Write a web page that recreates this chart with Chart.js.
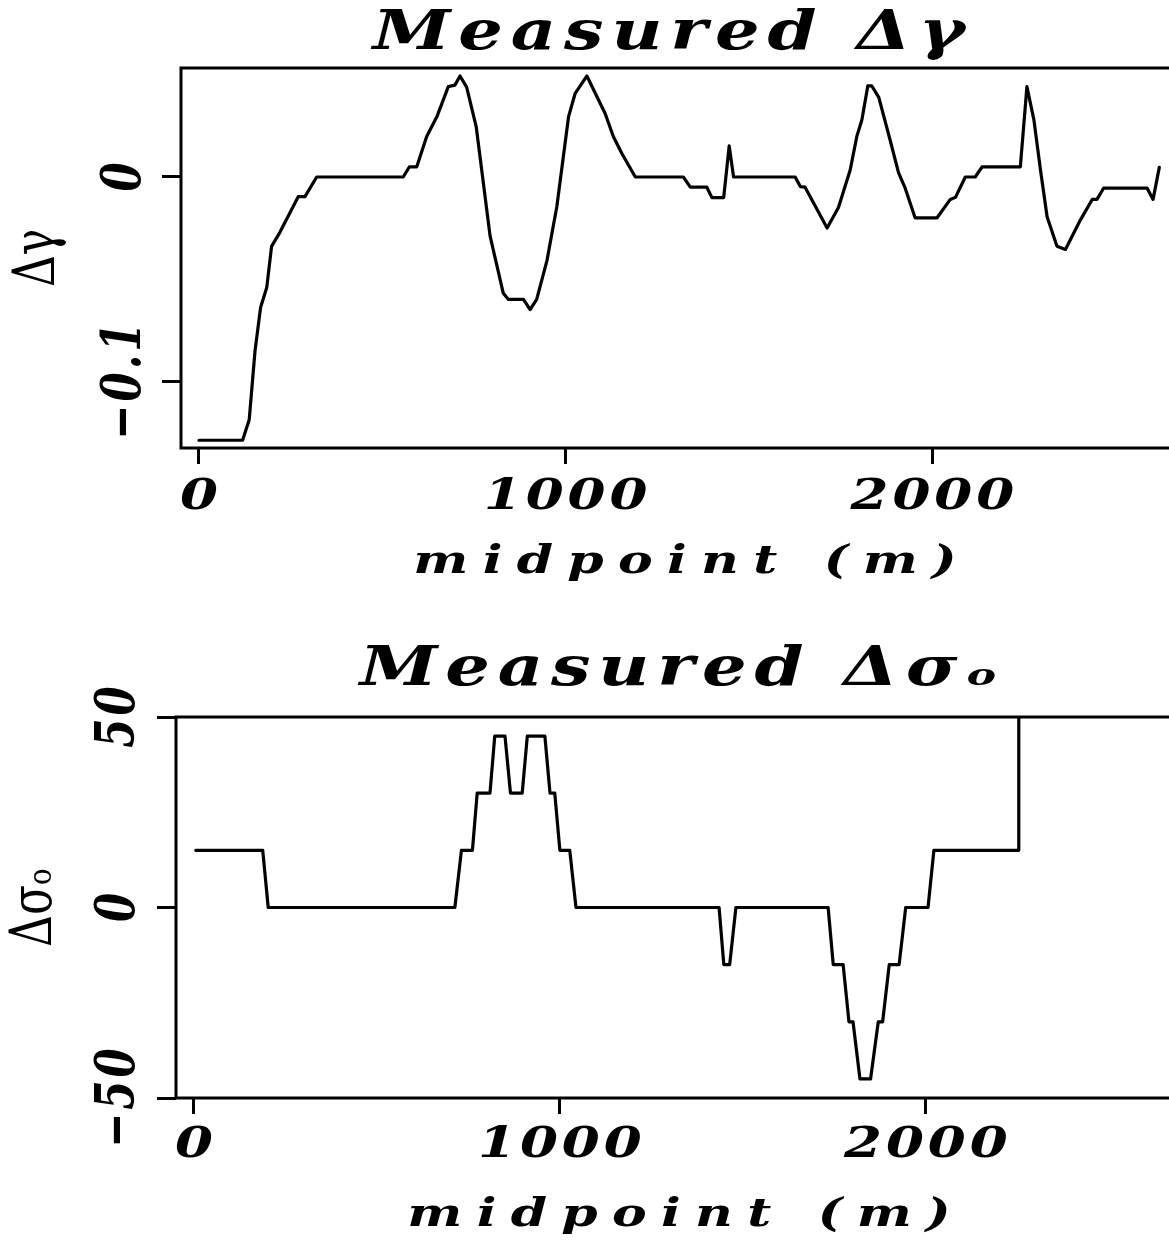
<!DOCTYPE html>
<html>
<head>
<meta charset="utf-8">
<script src="https://cdn.jsdelivr.net/npm/chart.js@4.4.1/dist/chart.umd.min.js"></script>
<style>
  html, body { margin: 0; padding: 0; background: #fff; overflow: hidden; }
  canvas { display: block; }
</style>
</head>
<body>
<canvas id="gammaChart" width="1240" height="620"></canvas>
<canvas id="sigmaChart" width="1240" height="624"></canvas>
<script>
// Measured delta gamma along the line (midpoint in m)
const midpointsGamma = [
  0, 119, 137, 153, 168, 185, 198, 221, 271, 289,
  321, 557, 574, 594, 621, 649, 680, 698, 712, 730,
  756, 794, 830, 844, 885, 903, 921, 949, 976, 1008,
  1026, 1058, 1108, 1130, 1153, 1190, 1321, 1340, 1385, 1399,
  1431, 1446, 1458, 1626, 1640, 1653, 1713, 1744, 1776, 1794,
  1808, 1824, 1835, 1854, 1885, 1908, 1926, 1953, 2013, 2049,
  2063, 2090, 2117, 2136, 2240, 2258, 2277, 2295, 2313, 2340,
  2363, 2404, 2436, 2449, 2467, 2586, 2602, 2619
];
const gammaValues = [
  -0.129, -0.129, -0.119, -0.085, -0.064, -0.054, -0.034, -0.027, -0.0096, -0.0096,
  0, 0, 0.005, 0.005, 0.0198, 0.0296, 0.0443, 0.045, 0.0495, 0.044,
  0.0247, -0.029, -0.057, -0.060, -0.060, -0.065, -0.060, -0.041, -0.0145, 0.0296,
  0.041, 0.0495, 0.031, 0.0198, 0.0116, 0, 0, -0.005, -0.005, -0.0101,
  -0.0101, 0.0152, 0, 0, -0.0047, -0.005, -0.025, -0.015, 0.0034, 0.0198,
  0.028, 0.0446, 0.0446, 0.039, 0.018, 0.002, -0.0055, -0.020, -0.020, -0.011,
  -0.010, 0, 0, 0.005, 0.005, 0.0443, 0.028, 0.0034, -0.0195, -0.034,
  -0.0355, -0.021, -0.011, -0.011, -0.0055, -0.0055, -0.011, 0.0047
];

// Measured delta sigma_o
const midpointsSigma = [
  5, 188, 203, 713, 731, 761, 774, 809, 822, 850,
  865, 897, 911, 959, 973, 986, 1000, 1027, 1044, 1435,
  1448, 1464, 1481, 1733, 1747, 1774, 1790, 1801, 1820, 1849,
  1870, 1882, 1900, 1927, 1945, 2006, 2022, 2252, 2254
];
const sigmaValues = [
  15, 15, 0, 0, 15, 15, 30, 30, 45, 45,
  30, 30, 45, 45, 30, 30, 15, 15, 0, 0,
  -15, -15, 0, 0, -15, -15, -30, -30, -45, -45,
  -30, -30, -15, -15, 0, 0, 15, 15, 50
];

const xTickValues = [0, 1000, 2000];
const gammaTickValues = [-0.1, 0];
const sigmaTickValues = [-50, 0, 50];

const FONT = 'DejaVu Serif';
const TITLE_SIZE = 54;
// the scanned lettering is wide: stretch glyphs across the page and add some letter spacing (px, keyed by font size)
const STRETCH = 1.3;
const letterGaps = { 54: 6, 42: 3, 40: 11 };

function formatTick(v) {
  return v < 0 ? '\u2212' + String(-v) : String(v);
}

const spacedText = {
  id: 'spacedText',
  beforeDraw(chart, args, opts) {
    const ctx = chart.ctx;
    if (ctx.plainFillText) return;
    const titleShift = opts.titleShift || 0;
    ctx.plainFillText = ctx.fillText;
    ctx.fillText = function (text, x, y) {
      const m = /(\d+(?:\.\d+)?)px/.exec(this.font);
      const size = m ? Math.round(parseFloat(m[1])) : 0;
      const gap = letterGaps[size] || 0;
      const rotated = Math.abs(this.getTransform().b) > 0.5;
      if (size === TITLE_SIZE) x += titleShift;
      this.save();
      this.letterSpacing = gap + 'px';
      this.translate(x, y);
      if (rotated) this.scale(1, STRETCH);
      else this.scale(STRETCH, 1);
      this.plainFillText(text, this.textAlign === 'center' ? gap / 2 : 0, 0);
      this.restore();
      this.letterSpacing = '0px';
    };
  }
};

// box round the plot area
const frame = {
  id: 'frame',
  afterDraw(chart) {
    const { ctx, chartArea: { left, top, right, bottom } } = chart;
    ctx.save();
    ctx.strokeStyle = '#000';
    ctx.lineWidth = 3;
    ctx.strokeRect(left, top, right - left, bottom - top);
    ctx.restore();
  }
};

function buildChart(id, o) {
  return new Chart(document.getElementById(id), {
    type: 'line',
    data: {
      datasets: [{
        data: o.xs.map((x, i) => ({ x: x, y: o.ys[i] })),
        borderColor: '#000',
        borderWidth: 3.2,
        pointRadius: 0,
        tension: 0,
        borderJoinStyle: 'round',
        borderCapStyle: 'round'
      }]
    },
    options: {
      responsive: false,
      animation: false,
      devicePixelRatio: 1,
      layout: { padding: { left: 0, right: o.padRight, top: 0, bottom: 0 } },
      plugins: {
        legend: { display: false },
        tooltip: { enabled: false },
        spacedText: { titleShift: o.titleShift },
        title: {
          display: true,
          text: o.title,
          color: '#000',
          fullSize: false,
          font: { family: FONT, size: TITLE_SIZE, style: 'italic', weight: 'bold', lineHeight: 1 },
          padding: { top: o.titleTop, bottom: o.titleBottom }
        }
      },
      scales: {
        x: {
          type: 'linear',
          min: -49,
          max: 2700,
          afterBuildTicks: s => { s.ticks = xTickValues.map(v => ({ value: v })); },
          afterFit: s => { s.height = o.xHeight; },
          border: { display: false },
          grid: { drawOnChartArea: false, drawTicks: true, tickLength: 16, lineWidth: 3, color: '#000' },
          ticks: {
            autoSkip: false,
            maxRotation: 0,
            padding: o.xTickPad,
            color: '#000',
            font: { family: FONT, size: 42, style: 'italic', weight: 'bold', lineHeight: 1 },
            callback: v => formatTick(v)
          },
          title: {
            display: true,
            text: 'midpoint (m)',
            color: '#000',
            font: { family: FONT, size: 40, style: 'italic', weight: 'bold', lineHeight: 1 },
            padding: { top: 0, bottom: o.xTitlePad }
          }
        },
        y: {
          type: 'linear',
          min: o.yMin,
          max: o.yMax,
          afterBuildTicks: s => { s.ticks = o.yTicks.map(v => ({ value: v })); },
          afterFit: s => { s.width = o.yWidth; },
          border: { display: false },
          grid: { drawOnChartArea: false, drawTicks: true, tickLength: 19, lineWidth: 3, color: '#000' },
          ticks: {
            autoSkip: false,
            minRotation: 90,
            maxRotation: 90,
            crossAlign: 'center',
            padding: o.yTickPad,
            color: '#000',
            font: { family: FONT, size: 42, style: 'italic', weight: 'bold', lineHeight: 1 },
            callback: v => formatTick(v)
          },
          title: {
            display: true,
            text: o.yTitle,
            color: '#000',
            font: { family: FONT, size: 44, style: 'normal', weight: 'normal', lineHeight: 1 },
            padding: { top: o.yTitlePad, bottom: 0 }
          }
        }
      }
    },
    plugins: [spacedText, frame]
  });
}

buildChart('gammaChart', {
  xs: midpointsGamma, ys: gammaValues,
  title: 'Measured \u0394\u03b3', yTitle: '\u0394\u03b3',
  yMin: -0.1328, yMax: 0.0534, yTicks: gammaTickValues,
  padRight: 51, titleTop: 8, titleBottom: 6, titleShift: -16,
  xHeight: 172, xTickPad: 13, xTitlePad: 37,
  yWidth: 181, yTickPad: -18, yTitlePad: 17
});

buildChart('sigmaChart', {
  xs: midpointsSigma, ys: sigmaValues,
  title: 'Measured \u0394\u03c3\u2092', yTitle: '\u0394\u03c3\u2092',
  yMin: -50, yMax: 50, yTicks: sigmaTickValues,
  padRight: 58, titleTop: 24, titleBottom: 19, titleShift: 0,
  xHeight: 146, xTickPad: 11, xTitlePad: 8,
  yWidth: 176, yTickPad: -10, yTitlePad: 14
});
</script>
</body>
</html>
